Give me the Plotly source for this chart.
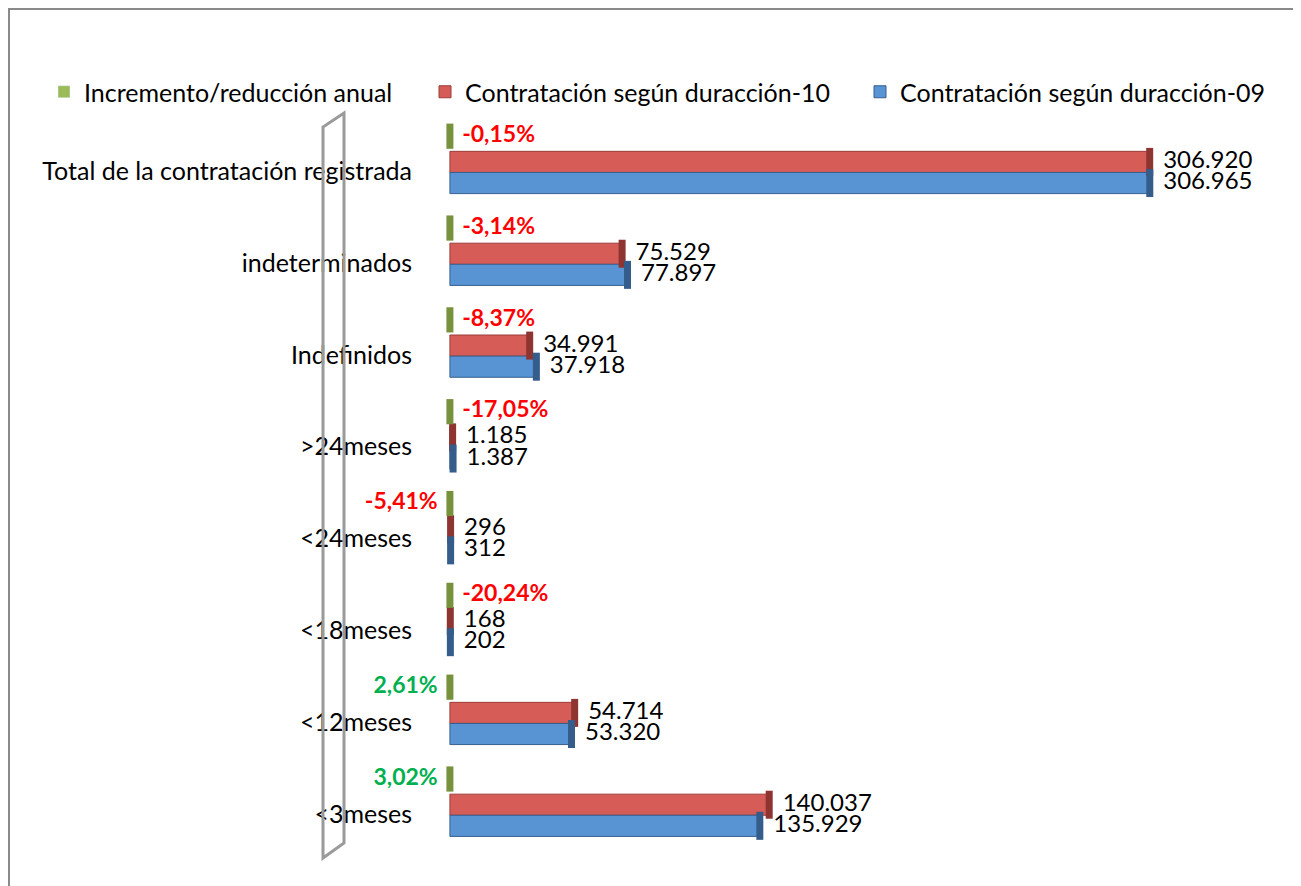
import plotly.graph_objs as go

# data
categorias = ["Total de la contratación registrada", "indeterminados", "Indefinidos",
              ">24meses", "<24meses", "<18meses", "<12meses", "<3meses"]
contratos_09 = [306965, 77897, 37918, 1387, 312, 202, 53320, 135929]
contratos_10 = [306920, 75529, 34991, 1185, 296, 168, 54714, 140037]
incremento = [-0.15, -3.14, -8.37, -17.05, -5.41, -20.24, 2.61, 3.02]

# the page body adds an 8px margin, so work in screenshot pixels minus 8
OFF = 8
W, H = 1301 - OFF, 886 - OFF
ML, MR, MT, MB = 449 - OFF, 30, 116 - OFF, 17
FONT = "Lato, Carlito, Calibri, sans-serif"
ESCALA = 0.00228  # px per contract

ypos = list(range(len(categorias) - 1, -1, -1))


def miles(v):
    return f"{v:,}".replace(",", ".")


def pct(v):
    return f"{v:.2f}%".replace(".", ",")


def px_x(p):
    return (p - OFF - ML) / (W - ML - MR)


def px_y(p):
    return (H - MB - (p - OFF)) / (H - MT - MB)


# Creating green (legend only, values are tiny on this scale)
verde = go.Bar(
    y=ypos, x=[v / 100 for v in incremento], orientation="h",
    name="Incremento/reducción anual", width=0.23, offset=0.245,
    marker=dict(color="#9bbb59"), hoverinfo="skip", legend="legend")

# Creating 2010
rojo = go.Bar(
    y=ypos, x=contratos_10, orientation="h",
    name="Contratación según duracción-10", width=0.23, offset=-0.015,
    marker=dict(color="#d65c57", line=dict(color="#9c3d3a", width=1)),
    legend="legend2")

# Creating 2009
azul = go.Bar(
    y=ypos, x=contratos_09, orientation="h",
    name="Contratación según duracción-09", width=0.23, offset=-0.245,
    marker=dict(color="#5893d4", line=dict(color="#35608f", width=1)),
    legend="legend3")

# cylinder end caps + value labels
tapa_rojo = go.Scatter(
    y=[p + 0.1 for p in ypos], x=contratos_10, mode="markers+text",
    marker=dict(symbol="line-ns", size=20, line=dict(color="#8e3431", width=7)),
    text=[miles(v) for v in contratos_10], textposition="middle right",
    textfont=dict(size=24, color="#000000", family=FONT),
    cliponaxis=False, showlegend=False, hoverinfo="skip")

tapa_azul = go.Scatter(
    y=[p - 0.13 for p in ypos], x=contratos_09, mode="markers+text",
    marker=dict(symbol="line-ns", size=20, line=dict(color="#345d8c", width=7)),
    text=[miles(v) for v in contratos_09], textposition="middle right",
    textfont=dict(size=24, color="#000000", family=FONT),
    cliponaxis=False, showlegend=False, hoverinfo="skip")

posiciones = []
for v in incremento:
    if v > 0 or v == -5.41:
        posiciones.append("middle left")
    else:
        posiciones.append("middle right")
tapa_verde = go.Scatter(
    y=[p + 0.38 for p in ypos], x=[v / 100 for v in incremento], mode="markers+text",
    marker=dict(symbol="line-ns", size=18, line=dict(color="#76923c", width=7)),
    text=[pct(v) for v in incremento], textposition=posiciones,
    textfont=dict(size=23, family=FONT, weight="bold",
                  color=["#00b050" if v > 0 else "#ff0000" for v in incremento]),
    cliponaxis=False, showlegend=False, hoverinfo="skip")

data = [verde, rojo, azul, tapa_rojo, tapa_azul, tapa_verde]

# grey 3D wall on the left + outer frame
pared = "M {} {} L {} {} L {} {} L {} {} Z".format(
    px_x(323), px_y(858), px_x(323), px_y(127), px_x(344), px_y(113), px_x(344), px_y(843))


def leyenda(x):
    return dict(orientation="h", xref="container", yref="container",
                x=(x - OFF) / W, y=1 - (92 - OFF) / H, xanchor="left", yanchor="middle",
                font=dict(size=25, family=FONT), bgcolor="rgba(0,0,0,0)")


layout = go.Layout(
    width=W, height=H,
    margin=dict(l=ML, r=MR, t=MT, b=MB, autoexpand=False),
    paper_bgcolor="white", plot_bgcolor="white",
    font=dict(family=FONT, size=25, color="#000000"),
    barmode="overlay",
    xaxis=dict(range=[-400, (W - ML - MR) / ESCALA - 400], visible=False),
    yaxis=dict(range=[-0.6, 7.6], tickvals=ypos, ticktext=categorias,
               showgrid=False, zeroline=False, showline=False,
               ticklabelstandoff=36, tickfont=dict(size=25, family=FONT)),
    legend=leyenda(44),
    legend2=leyenda(425),
    legend3=leyenda(860),
    shapes=[
        dict(type="path", path=pared, xref="paper", yref="paper",
             line=dict(color="#9a9a9a", width=3)),
        dict(type="rect", xref="paper", yref="paper",
             x0=px_x(9), x1=px_x(1297), y0=px_y(900), y1=px_y(9),
             line=dict(color="#8a8a8a", width=2), layer="below"),
    ],
)

fig = go.Figure(data=data, layout=layout)
fig.write_html("out.html")
